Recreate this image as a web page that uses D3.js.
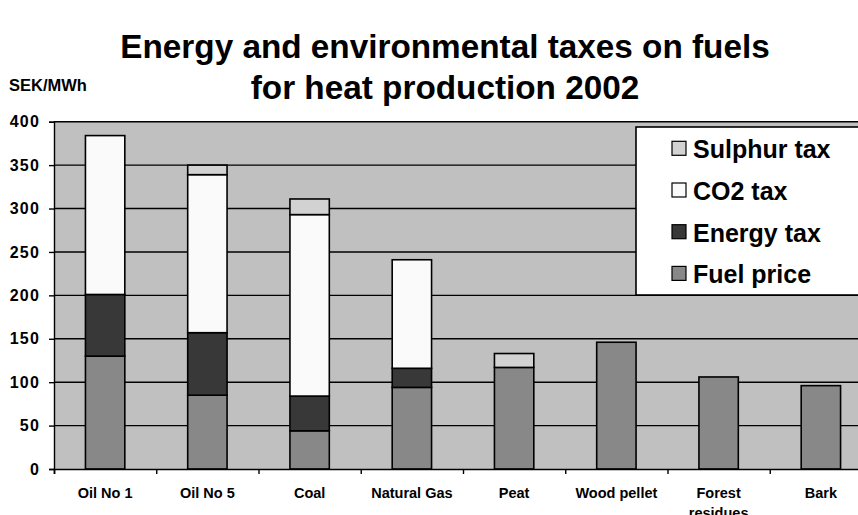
<!DOCTYPE html>
<html>
<head>
<meta charset="utf-8">
<script src="https://cdn.jsdelivr.net/npm/d3@7"></script>
<style>
  html, body { margin: 0; padding: 0; background: #ffffff; }
  svg { display: block; }
  text { font-family: Arial, "Liberation Sans", Helvetica, sans-serif; font-weight: bold; fill: #000; }
</style>
</head>
<body>
<svg id="chart" width="858" height="515"></svg>
<script>
// Fuels and their price / tax components (SEK/MWh), 2002
const categories = ["Oil No 1", "Oil No 5", "Coal", "Natural Gas", "Peat", "Wood pellet", "Forest residues", "Bark"];
const fuelPrice  = [130, 85, 44, 94, 117, 146, 106, 96];
const energyTax  = [71, 72, 40, 22, 0, 0, 0, 0];
const co2Tax     = [183, 182, 209, 125, 0, 0, 0, 0];
const sulphurTax = [0, 11, 18, 0, 16, 0, 0, 0];

const seriesNames = ["Fuel price", "Energy tax", "CO2 tax", "Sulphur tax"];
const seriesColors = ["#888888", "#383838", "#fafafa", "#d2d2d2"];
const yTicks = [0, 50, 100, 150, 200, 250, 300, 350, 400];

const rows = categories.map((c, i) => ({
  category: c,
  "Fuel price": fuelPrice[i],
  "Energy tax": energyTax[i],
  "CO2 tax": co2Tax[i],
  "Sulphur tax": sulphurTax[i]
}));

const svg = d3.select("#chart");
const plot = { left: 54, right: 872, top: 121.7, bottom: 469 };

const x = d3.scaleBand().domain(categories).range([plot.left, plot.right]).padding(0);
const edges = d3.scaleLinear().domain([0, categories.length]).range([plot.left, plot.right]);
const y = d3.scaleLinear().domain([0, 400]).range([plot.bottom, plot.top]);
const color = d3.scaleOrdinal().domain(seriesNames).range(seriesColors);

// plot background
svg.append("rect")
  .attr("x", plot.left).attr("y", plot.top)
  .attr("width", plot.right - plot.left).attr("height", plot.bottom - plot.top)
  .attr("fill", "#c0c0c0");

// horizontal gridlines
svg.append("g").selectAll("line")
  .data(yTicks.filter(d => d > 0))
  .join("line")
  .attr("x1", plot.left).attr("x2", plot.right)
  .attr("y1", d => y(d)).attr("y2", d => y(d))
  .attr("stroke", "#000").attr("stroke-width", 1.4);

// stacked bars
const stacked = d3.stack().keys(seriesNames)(rows);
const barW = x.bandwidth() * 0.385;
svg.append("g").selectAll("g")
  .data(stacked)
  .join("g")
  .attr("fill", d => color(d.key))
  .selectAll("rect")
  .data(d => d.filter(s => s[1] - s[0] > 0))
  .join("rect")
  .attr("x", d => x(d.data.category) + (x.bandwidth() - barW) / 2)
  .attr("width", barW)
  .attr("y", d => y(d[1]))
  .attr("height", d => y(d[0]) - y(d[1]))
  .attr("stroke", "#000").attr("stroke-width", 1.6);

// y axis
const yAxis = svg.append("g")
  .attr("transform", `translate(${plot.left},0)`)
  .call(d3.axisLeft(y).tickValues(yTicks).tickSize(5).tickPadding(9));
yAxis.select(".domain").attr("stroke", "#000").attr("stroke-width", 1.4);
yAxis.selectAll(".tick line").attr("stroke", "#000").attr("stroke-width", 1.4);
yAxis.selectAll(".tick text")
  .style("font-size", "16px").style("letter-spacing", "1.2px")
  .style("font-family", "Arial, 'Liberation Sans', sans-serif").style("font-weight", "bold")
  .attr("fill", "#000");

// x axis: ticks on category boundaries
const xAxis = svg.append("g")
  .attr("transform", `translate(0,${plot.bottom})`)
  .call(d3.axisBottom(edges).ticks(categories.length).tickSize(5).tickFormat(""));
xAxis.select(".domain").attr("stroke", "#000").attr("stroke-width", 1.6);
xAxis.selectAll(".tick line").attr("stroke", "#000").attr("stroke-width", 1.4);

// category labels (long names wrap onto a second line)
const labels = svg.append("g").selectAll("text")
  .data(categories)
  .join("text")
  .attr("x", d => x(d) + x.bandwidth() / 2)
  .attr("y", 498)
  .attr("text-anchor", "middle")
  .style("font-size", "14.5px");
labels.each(function (d) {
  const words = d === "Forest residues" ? ["Forest", "residues"] : [d];
  const t = d3.select(this);
  words.forEach((w, i) => {
    t.append("tspan").attr("x", x(d) + x.bandwidth() / 2).attr("dy", i === 0 ? 0 : 19.5).text(w);
  });
});

// unit label
svg.append("text").attr("x", 9).attr("y", 91).style("font-size", "16.5px").text("SEK/MWh");

// title
svg.append("text").attr("x", 445).attr("y", 58).attr("text-anchor", "middle")
  .style("font-size", "33.3px").text("Energy and environmental taxes on fuels");
svg.append("text").attr("x", 445).attr("y", 99).attr("text-anchor", "middle")
  .style("font-size", "33.3px").text("for heat production 2002");

// legend
const legend = svg.append("g");
legend.append("rect")
  .attr("x", 636).attr("y", 127).attr("width", 240).attr("height", 168)
  .attr("fill", "#ffffff").attr("stroke", "#000").attr("stroke-width", 1.6);
const legendOrder = ["Sulphur tax", "CO2 tax", "Energy tax", "Fuel price"];
const item = legend.selectAll("g.item")
  .data(legendOrder)
  .join("g").attr("class", "item")
  .attr("transform", (d, i) => `translate(0,${158.3 + i * 41.7})`);
item.append("rect")
  .attr("x", 672).attr("y", -17).attr("width", 14).attr("height", 14)
  .attr("fill", d => color(d)).attr("stroke", "#000").attr("stroke-width", 1.2);
item.append("text").attr("x", 693).attr("y", 0).style("font-size", "25px").text(d => d);
</script>
</body>
</html>
